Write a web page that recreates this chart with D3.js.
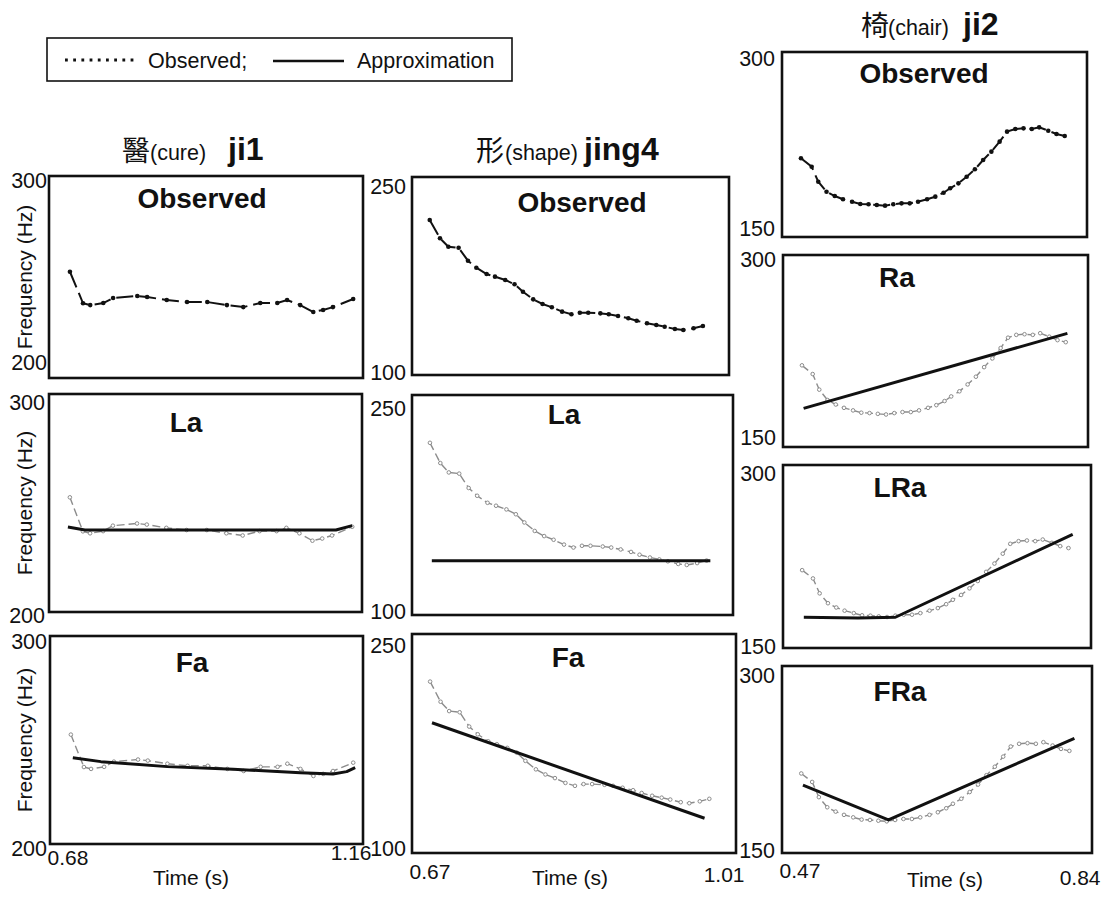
<!DOCTYPE html>
<html>
<head>
<meta charset="utf-8">
<script src="https://cdn.jsdelivr.net/npm/d3@7"></script>
<style>
  body { margin: 0; background: #fff; }
  text { font-family: "Liberation Sans", Arial, sans-serif; fill: #111; }
</style>
</head>
<body>
<svg id="chart" width="1102" height="897"></svg>
<script>
// ---- F0 contours (Hz) of the three syllables ----
// 醫 ji1 (level tone)
const ji1Time = [0.712,0.732,0.743,0.763,0.778,0.815,0.830,0.860,0.891,0.922,0.952,0.977,1.003,1.029,1.044,1.064,1.084,1.099,1.114,1.145];
const ji1Hz   = [252.6,237.0,236.1,237.1,239.6,240.6,240.1,238.6,237.6,237.6,236.1,235.1,237.1,237.1,238.6,236.1,232.7,233.7,235.1,239.1];
// 形 jing4 (falling tone)
const jing4Time = [0.689,0.700,0.709,0.720,0.730,0.739,0.750,0.759,0.770,0.780,0.789,0.800,0.810,0.820,0.831,0.841,0.850,0.859,0.872,0.881,0.891,0.902,0.911,0.922,0.932,0.941,0.952,0.961,0.972,0.982];
const jing4Hz   = [217.4,203.6,197.2,196.4,186.6,181.3,176.5,174.5,172.0,168.7,163.1,157.3,153.8,151.3,148.0,146.0,147.2,147.2,146.7,146.0,144.7,143.0,141.1,139.2,137.9,136.6,134.8,134.1,135.4,137.1];
// 椅 ji2 (rising tone)
const ji2Time = [0.493,0.506,0.514,0.524,0.534,0.544,0.555,0.565,0.575,0.585,0.595,0.605,0.615,0.625,0.635,0.646,0.656,0.666,0.674,0.684,0.694,0.704,0.714,0.724,0.734,0.743,0.753,0.763,0.773,0.782,0.793,0.803,0.813];
const ji2Hz   = [213.8,207.0,194.8,186.7,183.2,180.6,178.6,176.8,176.5,175.9,175.4,176.5,177.3,177.3,178.6,180.6,182.7,185.9,189.5,193.5,198.9,204.9,212.4,219.2,227.3,235.4,237.6,238.1,237.6,238.9,236.2,233.5,231.9];

// ---- Model approximations ----
const ji1LaTime = [0.709,0.735,1.120,1.145];
const ji1LaHz   = [239.0,237.6,237.6,239.6];
const ji1FaTime = [0.715,0.758,0.860,0.961,1.064,1.114,1.135,1.148];
const ji1FaHz   = [241.5,239.6,237.2,235.9,234.3,233.7,234.8,236.7];
const jing4LaTime = [0.691,0.986];
const jing4LaHz   = [137.0,137.0];
const jing4FaTime = [0.691,0.977];
const jing4FaHz   = [189.2,123.8];
const ji2RaTime  = [0.495,0.815];
const ji2RaHz    = [180.2,238.8];
const ji2LRaTime = [0.495,0.560,0.605,0.818];
const ji2LRaHz   = [175.2,174.5,175.2,243.2];
const ji2FRaTime = [0.495,0.597,0.819];
const ji2FRaHz   = [204.5,176.5,242.0];

// ---- Axis ranges and labels ----
const ji1TimeRange   = [0.68, 1.16];
const jing4TimeRange = [0.67, 1.01];
const ji2TimeRange   = [0.47, 0.84];
const ji1HzRange   = [200, 300];
const jing4HzRange = [100, 250];
const ji2HzRange   = [150, 300];

const zip = (t, v) => t.map((d, i) => ({t: d, f: v[i]}));
const observed = {
  ji1:   zip(ji1Time, ji1Hz),
  jing4: zip(jing4Time, jing4Hz),
  ji2:   zip(ji2Time, ji2Hz)
};

// Panel layout: box = [left, right, top, bottom]; nudge = label offsets
const panels = [
  {word:'ji1', title:'Observed', box:[49,363,176,378], tDom:ji1TimeRange, fDom:ji1HzRange, titlePos:[202,208], nudge:[4,-15.5], pad:2, ylab:true},
  {word:'ji1', title:'La', approx:zip(ji1LaTime, ji1LaHz), box:[49,362,394,612], tDom:ji1TimeRange, fDom:ji1HzRange, titlePos:[186,432], nudge:[8,3], pad:4, ylab:true},
  {word:'ji1', title:'Fa', approx:zip(ji1FaTime, ji1FaHz), box:[50,363,636,844], tDom:ji1TimeRange, fDom:ji1HzRange, titlePos:[192,672], nudge:[5,4], pad:3, ylab:true,
   xaxis:{base:[865,860], timeX:191, timeBase:885}},
  {word:'jing4', title:'Observed', box:[412,729,177,375], tDom:jing4TimeRange, fDom:jing4HzRange, titlePos:[582,212], nudge:[9,-2.5], pad:6},
  {word:'jing4', title:'La', approx:zip(jing4LaTime, jing4LaHz), box:[412,733,395,615], tDom:jing4TimeRange, fDom:jing4HzRange, titlePos:[564,424], nudge:[13,-4], pad:6},
  {word:'jing4', title:'Fa', approx:zip(jing4FaTime, jing4FaHz), box:[412,736,634,853], tDom:jing4TimeRange, fDom:jing4HzRange, titlePos:[568,667], nudge:[11,-5], pad:6,
   xaxis:{base:[879,882], timeX:570, timeBase:885}},
  {word:'ji2', title:'Observed', box:[782,1087,52,237], tDom:ji2TimeRange, fDom:ji2HzRange, titlePos:[924,83], nudge:[6,-9], pad:7},
  {word:'ji2', title:'Ra', approx:zip(ji2RaTime, ji2RaHz), box:[783,1088,255,447], tDom:ji2TimeRange, fDom:ji2HzRange, titlePos:[897,287], nudge:[4.5,-9.5], pad:7},
  {word:'ji2', title:'LRa', approx:zip(ji2LRaTime, ji2LRaHz), box:[783,1091,465,648], tDom:ji2TimeRange, fDom:ji2HzRange, titlePos:[900,497], nudge:[8.5,-1.5], pad:7},
  {word:'ji2', title:'FRa', approx:zip(ji2FRaTime, ji2FRaHz), box:[782,1092,666,853], tDom:ji2TimeRange, fDom:ji2HzRange, titlePos:[900,701], nudge:[9.5,-3], pad:7,
   xaxis:{base:[878,885], timeX:945, timeBase:887}}
];

const svg = d3.select('#chart');

// ---- Legend ----
const legend = svg.append('g');
legend.append('rect').attr('x', 47).attr('y', 38).attr('width', 465).attr('height', 43)
  .attr('fill', 'none').attr('stroke', '#111').attr('stroke-width', 1.6);
legend.append('line').attr('x1', 65).attr('x2', 136).attr('y1', 60).attr('y2', 60)
  .attr('stroke', '#111').attr('stroke-width', 2.8).attr('stroke-dasharray', '2.8,5.4');
legend.append('text').attr('x', 148).attr('y', 68).attr('font-size', 21.5).text('Observed;');
legend.append('line').attr('x1', 273).attr('x2', 344).attr('y1', 61).attr('y2', 61)
  .attr('stroke', '#111').attr('stroke-width', 2.4);
legend.append('text').attr('x', 357).attr('y', 68).attr('font-size', 21.5).text('Approximation');

// ---- Column headings ----
const headings = [
  {x:122, y:160, han:'醫', gloss:'(cure)', glossX:150, roman:'ji1', romanX:228},
  {x:476, y:160, han:'形', gloss:'(shape)', glossX:505, roman:'jing4', romanX:584},
  {x:861, y:35,  han:'椅', gloss:'(chair)', glossX:888, roman:'ji2', romanX:963}
];
headings.forEach(h => {
  svg.append('text').attr('x', h.x).attr('y', h.y + 1)
    .style('font-family', '"Noto Sans CJK TC","Noto Sans CJK SC",sans-serif')
    .attr('font-size', 28).text(h.han);
  svg.append('text').attr('x', h.glossX).attr('y', h.y).attr('font-size', 21.5).text(h.gloss);
  svg.append('text').attr('x', h.romanX).attr('y', h.y).attr('font-size', 32)
    .attr('font-weight', 'bold').text(h.roman);
});

// ---- Panels ----
panels.forEach(p => {
  const [x0, x1, y0, y1] = p.box;
  const x = d3.scaleLinear().domain(p.tDom).range([x0, x1]);
  const y = d3.scaleLinear().domain(p.fDom).range([y1, y0]);
  const g = svg.append('g');
  const line = d3.line().x(d => x(d.t)).y(d => y(d.f));
  const obs = observed[p.word];
  const isObs = !p.approx;

  // observed contour
  g.append('path').datum(obs).attr('d', line).attr('fill', 'none')
    .attr('stroke', isObs ? '#111' : '#8c8c8c')
    .attr('stroke-width', isObs ? 2 : 1.4)
    .attr('stroke-dasharray', isObs ? '17,6' : '8,4');
  g.selectAll('circle.pt').data(obs).join('circle')
    .attr('cx', d => x(d.t)).attr('cy', d => y(d.f))
    .attr('r', isObs ? 2.3 : 1.8)
    .attr('fill', isObs ? '#111' : '#fff')
    .attr('stroke', isObs ? 'none' : '#8c8c8c').attr('stroke-width', 1);

  // approximation
  if (p.approx) {
    g.append('path').datum(p.approx).attr('d', line).attr('fill', 'none')
      .attr('stroke', '#111').attr('stroke-width', 3).attr('stroke-linejoin', 'round');
  }

  // frame
  g.append('rect').attr('x', x0).attr('y', y0).attr('width', x1 - x0).attr('height', y1 - y0)
    .attr('fill', 'none').attr('stroke', '#111').attr('stroke-width', 2.6);

  // panel title
  g.append('text').attr('x', p.titlePos[0]).attr('y', p.titlePos[1])
    .attr('text-anchor', 'middle').attr('font-size', 28).attr('font-weight', 'bold').text(p.title);

  // frequency axis: end values only
  const ay = g.append('g').attr('transform', `translate(${x0},0)`)
    .call(d3.axisLeft(y).tickValues(p.fDom).tickSize(0).tickPadding(p.pad).tickFormat(d3.format('d')));
  ay.select('.domain').remove();
  ay.selectAll('text').attr('font-size', 21.5).style('font-family', '"Liberation Sans", Arial, sans-serif')
    .attr('fill', '#111')
    .attr('dy', d => (d === p.fDom[1] ? p.nudge[0] : p.nudge[1]) + 7);

  if (p.ylab) {
    g.append('text').attr('transform', `translate(32,${(y0 + y1) / 2}) rotate(-90)`)
      .attr('text-anchor', 'middle').attr('font-size', 21).text('Frequency (Hz)');
  }

  // time axis: start and end of the syllable
  if (p.xaxis) {
    const ax = g.append('g').attr('transform', `translate(0,${y1})`)
      .call(d3.axisBottom(x).tickValues(p.tDom).tickSize(0).tickFormat(d3.format('.2f')));
    ax.select('.domain').remove();
    ax.selectAll('text').attr('font-size', 21).style('font-family', '"Liberation Sans", Arial, sans-serif')
      .attr('fill', '#111').attr('dy', 0)
      .attr('text-anchor', (d, i) => i === 0 ? 'start' : 'end')
      .attr('dx', (d, i) => i === 0 ? -3 : 8)
      .attr('y', (d, i) => p.xaxis.base[i] - y1);
    g.append('text').attr('x', p.xaxis.timeX).attr('y', p.xaxis.timeBase)
      .attr('text-anchor', 'middle').attr('font-size', 21).text('Time (s)');
  }
});
</script>
</body>
</html>
